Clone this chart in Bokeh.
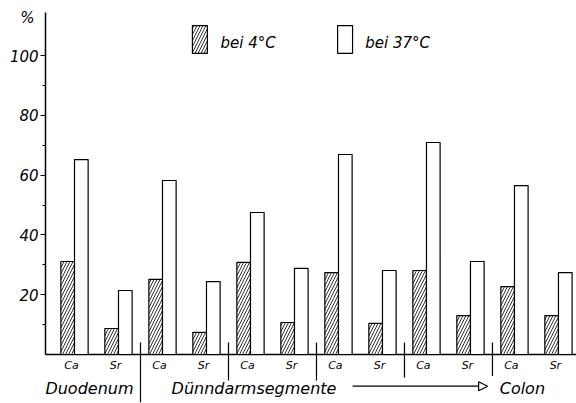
import numpy as np
from bokeh.plotting import figure
from bokeh.models import Range1d, FixedTicker, Span, Arrow, NormalHead
from bokeh.core.properties import value
from bokeh.embed import file_html
from bokeh.resources import INLINE

# ---- data ----
ions = ["Ca", "Sr", "Ca", "Sr", "Ca", "Sr", "Ca", "Sr", "Ca", "Sr", "Ca", "Sr"]
cold_4C = [31.1, 8.7, 25.1, 7.4, 30.8, 10.7, 27.4, 10.4, 28.1, 13.0, 22.7, 13.0]
warm_37C = [65.2, 21.4, 58.2, 24.4, 47.5, 28.8, 66.9, 28.1, 70.9, 31.1, 56.5, 27.4]
y_ticks = [20, 40, 60, 80, 100]
y_minor = [10, 30, 50, 70, 90]
regions = ["Duodenum", "Dünndarmsegmente", "Colon"]
legend_labels = ["bei 4°C", "bei 37°C"]
unit_label = "%"

FONT = value("DejaVu Sans")
idx = np.arange(len(ions))
AX_X = -0.659

p = figure(width=576, height=403,
           x_range=Range1d(-1.682, 11.41), y_range=Range1d(-16.39, 118.4),
           output_backend="svg", toolbar_location=None, x_axis_type=None,
           min_border_left=0, min_border_right=0, min_border_top=0, min_border_bottom=0)
p.outline_line_color = None
p.grid.visible = False
p.background_fill_color = "white"

ya = p.yaxis[0]
ya.fixed_location = AX_X
ya.ticker = FixedTicker(ticks=y_ticks, minor_ticks=y_minor)
ya.bounds = (0, 114.4)
ya.axis_line_width = 1.5
ya.axis_line_color = "black"
ya.major_tick_out = 5
ya.major_tick_in = 0
ya.minor_tick_out = 3
ya.minor_tick_in = 0
ya.major_tick_line_width = 1.2
ya.major_label_text_font = "DejaVu Sans"
ya.major_label_text_font_style = "italic"
ya.major_label_text_font_size = "15px"
ya.major_label_text_color = "black"
ya.major_label_standoff = 2

# baseline
p.segment(x0=[AX_X], y0=[0], x1=[11.41], y1=[0], line_color="black", line_width=1.5)

bw = 0.31
p.vbar(x=idx - bw / 2, top=cold_4C, bottom=0, width=bw, fill_color="white",
       line_color="black", line_width=1.2, hatch_pattern="/", hatch_scale=6,
       hatch_color="black", hatch_weight=0.8)
p.vbar(x=idx + bw / 2, top=warm_37C, bottom=0, width=bw, fill_color="white",
       line_color="black", line_width=1.2)

# ion labels
p.text(x=idx - 0.07, y=-3.7, text=ions, text_font=FONT, text_font_style="italic",
       text_font_size="11px", text_align="center", text_baseline="middle", text_color="black")

# separators between segments
sep_x = [1.5, 3.5, 5.5, 7.5, 9.5]
p.segment(x0=sep_x, y0=[4] * 5, x1=sep_x, y1=[-16.0, -8.7, -8.7, -7.7, -7.2],
          line_color="black", line_width=1.2)

# region labels
p.text(x=[0.34, 4.08, 10.18], y=[-11.5] * 3, text=regions, text_font=FONT,
       text_font_style="italic", text_font_size="16px", text_align="center",
       text_baseline="middle", text_color="black")

p.add_layout(Arrow(x_start=6.32, y_start=-10.6, x_end=9.39, y_end=-10.6,
                   line_color="black", line_width=1.2,
                   end=NormalHead(size=9, fill_color="white", line_color="black", line_width=1.2)))

# legend
p.quad(left=[2.68], right=[3.02], bottom=[100.7], top=[110], fill_color="white",
       line_color="black", line_width=1.2, hatch_pattern="/", hatch_scale=6,
       hatch_color="black", hatch_weight=0.8)
p.quad(left=[5.98], right=[6.32], bottom=[100.7], top=[110], fill_color="white",
       line_color="black", line_width=1.2)
p.text(x=[3.32, 6.61], y=[104.3, 104.3], text=legend_labels, text_font=FONT,
       text_font_style="italic", text_font_size="15px", text_align="left",
       text_baseline="middle", text_color="black")

# unit label
p.text(x=[-1.07], y=[112.4], text=[unit_label], text_font=FONT, text_font_style="italic",
       text_font_size="15px", text_align="center", text_baseline="middle", text_color="black")

open("out.html", "w").write(file_html(p, INLINE))
